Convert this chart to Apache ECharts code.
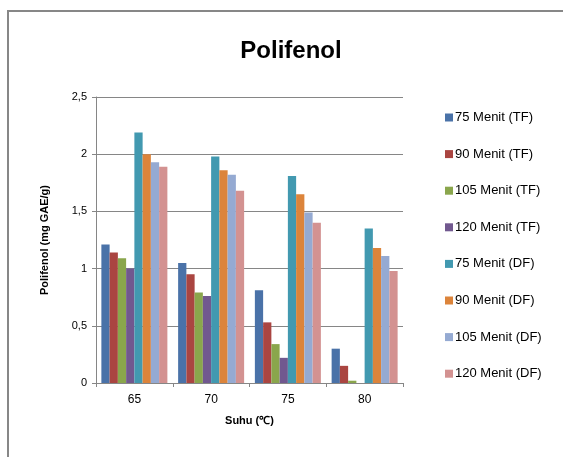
<!DOCTYPE html>
<html>
<head>
<meta charset="utf-8">
<script src="https://cdn.jsdelivr.net/npm/echarts@6/dist/echarts.min.js"></script>
<style>
  html, body { margin: 0; padding: 0; background: #fff; }
  #polifenol { width: 563px; height: 457px; }
</style>
</head>
<body>
<div id="polifenol"></div>
<script>
// data
var suhu = ['65', '70', '75', '80'];
var seriesNames = ['75 Menit (TF)', '90 Menit (TF)', '105 Menit (TF)', '120 Menit (TF)',
                   '75 Menit (DF)', '90 Menit (DF)', '105 Menit (DF)', '120 Menit (DF)'];
var m75TF  = [1.21, 1.05, 0.81, 0.30];
var m90TF  = [1.14, 0.95, 0.53, 0.15];
var m105TF = [1.09, 0.79, 0.34, 0.02];
var m120TF = [1.00, 0.76, 0.22, 0];
var m75DF  = [2.19, 1.98, 1.81, 1.35];
var m90DF  = [2.00, 1.86, 1.65, 1.18];
var m105DF = [1.93, 1.82, 1.49, 1.11];
var m120DF = [1.89, 1.68, 1.40, 0.98];
var yTicks = ['0', '0,5', '1', '1,5', '2', '2,5'];

var colors = ['#4a72a8', '#aa4541', '#8aa64c', '#71588f', '#4299b0', '#dc843b', '#95aad2', '#d39291'];
var allValues = [m75TF, m90TF, m105TF, m120TF, m75DF, m90DF, m105DF, m120DF];

var chart = echarts.init(document.getElementById('polifenol'));

var series = [];
for (var i = 0; i < seriesNames.length; i++) {
    series.push({
        name: seriesNames[i],
        type: 'bar',
        data: allValues[i],
        barGap: '0%',
        barCategoryGap: '14%',
        itemStyle: { color: colors[i] }
    });
}

var option = {
    animation: false,
    textStyle: { fontFamily: 'Liberation Sans, Arial, sans-serif' },
    graphic: [{
        type: 'rect',
        shape: { x: 8, y: 11, width: 600, height: 500 },
        style: { fill: 'none', stroke: '#878787', lineWidth: 2 },
        z: -1
    }],
    title: {
        text: 'Polifenol',
        left: 286,
        top: 34,
        textAlign: 'center',
        textStyle: { fontSize: 24, fontWeight: 'bold', color: '#000' }
    },
    legend: {
        orient: 'vertical',
        left: 440,
        top: 106,
        itemWidth: 8,
        itemHeight: 8,
        itemGap: 23.6,
        icon: 'rect',
        textStyle: { fontSize: 13, color: '#000', padding: [0, 0, 0, -3] },
        data: seriesNames
    },
    grid: { left: 96, right: 160, top: 97, bottom: 74 },
    xAxis: {
        type: 'category',
        data: suhu,
        name: 'Suhu (\u2103)',
        nameLocation: 'middle',
        nameGap: 32,
        nameTextStyle: { fontSize: 11, fontWeight: 'bold', color: '#000' },
        axisLine: { lineStyle: { color: '#868686', width: 1 } },
        axisTick: { show: true, length: 4, lineStyle: { color: '#868686' } },
        axisLabel: { fontSize: 12, color: '#000', margin: 11 }
    },
    yAxis: {
        type: 'value',
        min: 0,
        max: 2.5,
        interval: 0.5,
        name: 'Polifenol (mg GAE/g)',
        nameLocation: 'middle',
        nameGap: 46,
        nameTextStyle: { fontSize: 11, fontWeight: 'bold', color: '#000' },
        axisLine: { show: true, lineStyle: { color: '#868686', width: 1 } },
        axisTick: { show: true, length: 4, lineStyle: { color: '#868686' } },
        splitLine: { lineStyle: { color: '#868686', width: 1 } },
        axisLabel: {
            fontSize: 11,
            color: '#000',
            margin: 9,
            formatter: function (v) {
                return yTicks[Math.round(v / 0.5)];
            }
        }
    },
    series: series
};

chart.setOption(option);
</script>
</body>
</html>
